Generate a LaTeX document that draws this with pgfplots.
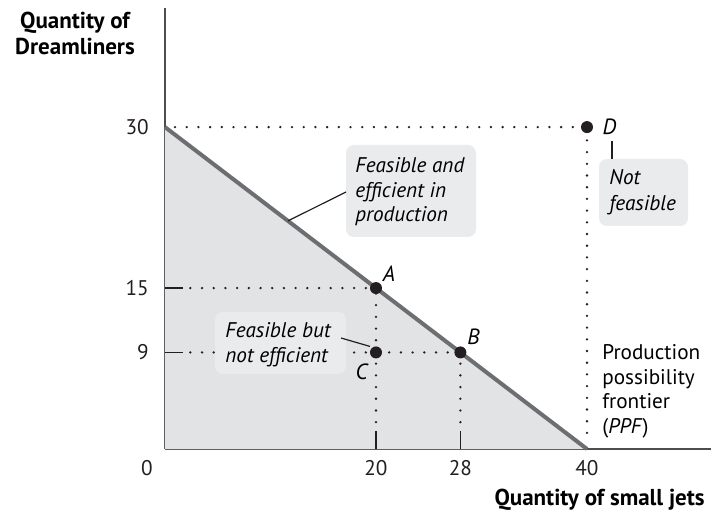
\documentclass[border=0pt]{standalone}
\usepackage{fontspec}
\setmainfont{PT Sans}
\usepackage{pgfplots}
\pgfplotsset{compat=1.18}

\definecolor{areagray}{HTML}{E2E3E5}
\definecolor{boxgray}{HTML}{EAEBEC}
\definecolor{ppfgray}{HTML}{6D6E71}
\definecolor{axisgray}{HTML}{4D4D4F}
\definecolor{ink}{HTML}{231F20}

\tikzset{
  dots/.style={ink, line width=1.3pt, line cap=round, dash pattern=on 0pt off 5.85pt},
  stub/.style={ink, line width=0.6pt},
  title/.style={font=\fontsize{11.5}{13}\selectfont\bfseries},
}

\begin{document}
\fontsize{10.6}{12}\selectfont
\begin{tikzpicture}
\begin{axis}[
  at={(82.5pt,-224.5pt)}, anchor=origin,
  x=5.275pt, y=5.365pt,
  xmin=0, xmax=51.75, ymin=0, ymax=41.1,
  axis lines=left,
  axis line style={-, axisgray, line width=0.8pt},
  xtick={20,28,40}, ytick={9,15,30},
  extra x ticks={0},
  extra x tick style={xticklabel style={xshift=-9pt}},
  major tick length=0pt,
  /pgf/number format/assume math mode=true,
  tick label style={text=ink},
  xticklabel style={yshift=-2.2pt},
  yticklabel style={xshift=-4.4pt},
  clip=false,
]
% feasible region
\addplot[fill=areagray, draw=none] coordinates {(0,0) (0,30) (40,0)} -- cycle;

% guide lines
\addplot[dots] coordinates {(0.95,30) (40,30)};
\addplot[dots] coordinates {(2.4,15) (20,15)};
\addplot[dots] coordinates {(2.4,9) (28,9)};
\addplot[dots] coordinates {(20,2.5) (20,15)};
\addplot[dots] coordinates {(28,2.5) (28,9)};
\addplot[dots] coordinates {(40,1.5) (40,30)};
\addplot[stub] coordinates {(0,15) (1.7,15)};
\addplot[stub] coordinates {(0,9) (1.7,9)};
\addplot[stub] coordinates {(20,0) (20,1.68)};
\addplot[stub] coordinates {(28,0) (28,1.68)};

% production possibility frontier
\addplot[ppfgray, line width=2pt] coordinates {(0,30) (40,0)};

\coordinate (A) at (20,15);
\coordinate (B) at (28,9);
\coordinate (C) at (20,9);
\coordinate (D) at (40,30);
\coordinate (L1) at (11.66,21.26);
\end{axis}

\begin{scope}[x=0.5pt, y=-0.5pt]
  % callout: feasible and efficient
  \fill[boxgray, rounded corners=4pt] (346,145) rectangle (476,237);
  \draw[ink, line width=0.6pt] (346,192) -- (L1);
  \node[anchor=base west, inner sep=0, font=\itshape] at (355,173) {Feasible and};
  \node[anchor=base west, inner sep=0, font=\itshape] at (355,197.5) {efficient in};
  \node[anchor=base west, inner sep=0, font=\itshape] at (355,222) {production};

  % callout: not feasible
  \fill[boxgray, rounded corners=4pt] (599,159) rectangle (688,226);
  \draw[ink, line width=0.6pt] (612,141) -- (612,159);
  \node[anchor=base west, inner sep=0, font=\itshape] at (609,185) {Not};
  \node[anchor=base west, inner sep=0, font=\itshape] at (609,211) {feasible};

  % callout: feasible but not efficient
  \fill[boxgray, rounded corners=4pt] (215,312) rectangle (346,374);
  \draw[ink, line width=0.6pt] (341,338) -- ([xshift=-3pt,yshift=3pt]C);
  \node[anchor=base west, inner sep=0, font=\itshape] at (225,338) {Feasible but};
  \node[anchor=base west, inner sep=0, font=\itshape] at (225,363) {not efficient};

  % PPF label
  \node[anchor=base west, inner sep=0] at (602,360) {Production};
  \node[anchor=base west, inner sep=0] at (602,384.5) {possibility};
  \node[anchor=base west, inner sep=0] at (602,409) {frontier};
  \node[anchor=base west, inner sep=0] at (602,433.5) {(\textit{PPF})};

  % axis titles
  \node[anchor=base, inner sep=0, title] at (75,29) {Quantity of};
  \node[anchor=base, inner sep=0, title] at (75,55) {Dreamliners};
  \node[anchor=base east, inner sep=0, title] at (705,506) {Quantity of small jets};
\end{scope}

% points and their letters
\foreach \p in {A,B,C,D} {
  \fill[ink] (\p) circle[radius=3pt];
}
\node[font=\fontsize{11}{12}\selectfont\itshape, inner sep=0] at ([xshift=6.5pt,yshift=7.25pt]A) {A};
\node[font=\fontsize{11}{12}\selectfont\itshape, inner sep=0] at ([xshift=6.5pt,yshift=7.75pt]B) {B};
\node[font=\fontsize{11}{12}\selectfont\itshape, inner sep=0] at ([xshift=-7.25pt,yshift=-9.75pt]C) {C};
\node[font=\fontsize{11}{12}\selectfont\itshape, inner sep=0] at ([xshift=11.25pt]D) {D};

\pgfresetboundingbox
\path[use as bounding box] (0,0) rectangle (356.5pt,-256.5pt);
\end{tikzpicture}
\end{document}
